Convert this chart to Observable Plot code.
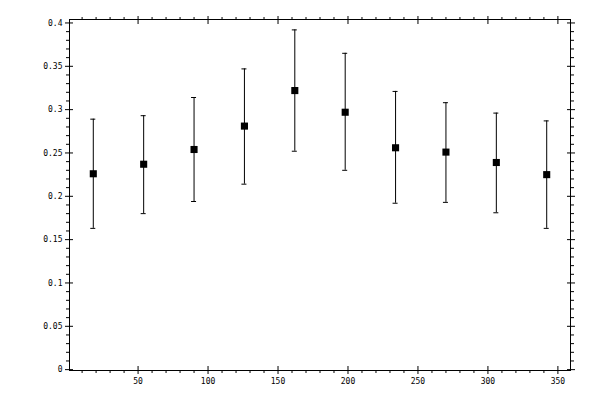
<!DOCTYPE html>
<html><head><meta charset="utf-8">
<script src="https://cdn.jsdelivr.net/npm/d3@7"></script>
<script src="https://cdn.jsdelivr.net/npm/@observablehq/plot@0.6"></script>
<style>body{margin:0;background:#fff}</style>
</head><body><div id="chart"></div>
<script>
const angles = [18, 54, 90, 126, 162, 198, 234, 270, 306, 342];
const means  = [0.226, 0.237, 0.254, 0.281, 0.322, 0.297, 0.256, 0.251, 0.239, 0.225];
const upper  = [0.289, 0.293, 0.314, 0.347, 0.392, 0.365, 0.321, 0.308, 0.296, 0.287];
const lower  = [0.163, 0.180, 0.194, 0.214, 0.252, 0.230, 0.192, 0.193, 0.181, 0.163];

const xMajor = [50, 100, 150, 200, 250, 300, 350];
const xLabels = ["50", "100", "150", "200", "250", "300", "350"];
const xMinor = d3.range(10, 360, 10).filter(v => v % 50 !== 0);
const yMajor = [0, 0.05, 0.1, 0.15, 0.2, 0.25, 0.3, 0.35, 0.4];
const yLabels = ["0", "0.05", "0.1", "0.15", "0.2", "0.25", "0.3", "0.35", "0.4"];
const yMinor = d3.range(0, 41).filter(v => v % 5 !== 0).map(v => v / 100);

const data = angles.map((a, i) => ({x: a, y: means[i], hi: upper[i], lo: lower[i]}));

const tickOnly = {fill: "none", label: null};

const chart = Plot.plot({
  width: 600, height: 400,
  marginLeft: 69, marginRight: 30, marginTop: 19, marginBottom: 30,
  x: {domain: [1, 359]},
  y: {domain: [-0.001, 0.404]},
  style: {fontFamily: "DejaVu Sans Mono", fontSize: "8px", color: "black", background: "white"},
  marks: [
    Plot.frame({stroke: "black"}),
    // minor ticks (outward)
    Plot.axisX(xMinor, {anchor: "bottom", tickSize: 3, ...tickOnly}),
    Plot.axisX(xMinor, {anchor: "top", tickSize: 3, ...tickOnly}),
    Plot.axisY(yMinor, {anchor: "left", tickSize: 3, ...tickOnly}),
    Plot.axisY(yMinor, {anchor: "right", tickSize: 3, ...tickOnly}),
    // major ticks (crossing)
    Plot.axisX(xMajor, {anchor: "bottom", tickSize: 8, dy: -4, ...tickOnly}),
    Plot.axisX(xMajor, {anchor: "top", tickSize: 8, dy: 4, ...tickOnly}),
    Plot.axisY(yMajor, {anchor: "left", tickSize: 8, dx: 4, ...tickOnly}),
    Plot.axisY(yMajor, {anchor: "right", tickSize: 8, dx: -4, ...tickOnly}),
    // labels
    Plot.axisX(xMajor, {anchor: "bottom", tickSize: 0, tickPadding: 8, label: null,
      tickFormat: d => xLabels[xMajor.indexOf(d)]}),
    Plot.axisY(yMajor, {anchor: "left", tickSize: 0, tickPadding: 7, label: null,
      tickFormat: d => yLabels[yMajor.indexOf(d)]}),
    // error bars
    Plot.ruleX(data, {x: "x", y1: "lo", y2: "hi", stroke: "black", strokeWidth: 1}),
    Plot.ruleY(data, {y: "hi", x1: "x", x2: "x", insetLeft: -2.5, insetRight: -2.5, stroke: "black"}),
    Plot.ruleY(data, {y: "lo", x1: "x", x2: "x", insetLeft: -2.5, insetRight: -2.5, stroke: "black"}),
    Plot.dot(data, {x: "x", y: "y", symbol: "square", r: 4, fill: "black", stroke: "none"})
  ]
});
document.getElementById("chart").appendChild(chart);
</script>
</body></html>
